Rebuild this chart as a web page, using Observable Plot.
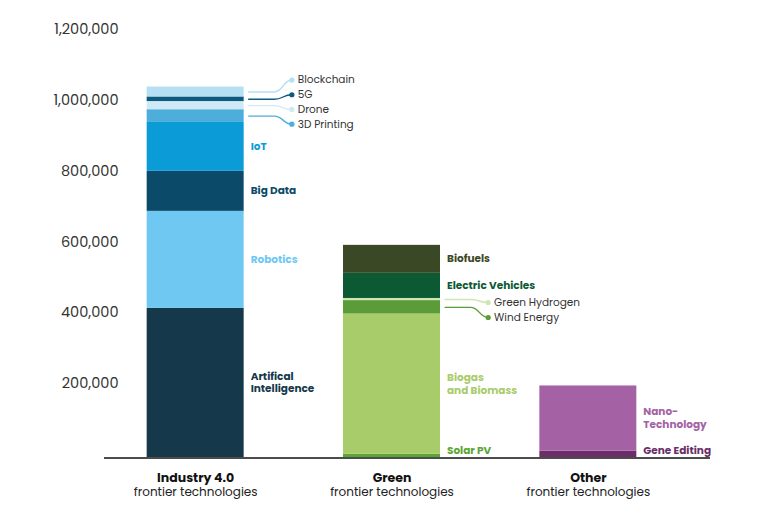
<!DOCTYPE html>
<html><head><meta charset="utf-8">
<script src="https://cdn.jsdelivr.net/npm/d3@7"></script>
<script src="https://cdn.jsdelivr.net/npm/@observablehq/plot@0.6"></script>
<style>
html,body{margin:0;padding:0;background:#fff;}
body{font-family:Poppins, Inter, "Noto Sans", sans-serif;}
</style></head><body><div id="chart"></div>
<script>
// ---- data ----
const groups = ["Industry 4.0", "Green", "Other"];
const groupSub = ["frontier technologies", "frontier technologies", "frontier technologies"];
const techs = ["Artifical Intelligence", "Robotics", "Big Data", "IoT", "3D Printing", "Drone", "5G", "Blockchain",
  "Solar PV", "Biogas and Biomass", "Wind Energy", "Green Hydrogen", "Electric Vehicles", "Biofuels",
  "Gene Editing", "Nano-Technology"];
const techLabels = ["Artifical\nIntelligence", "Robotics", "Big Data", "IoT", "3D Printing", "Drone", "5G", "Blockchain",
  "Solar PV", "Biogas\nand Biomass", "Wind Energy", "Green Hydrogen", "Electric Vehicles", "Biofuels",
  "Gene Editing", "Nano-\nTechnology"];
const techGroup = ["Industry 4.0", "Industry 4.0", "Industry 4.0", "Industry 4.0", "Industry 4.0", "Industry 4.0", "Industry 4.0", "Industry 4.0",
  "Green", "Green", "Green", "Green", "Green", "Green",
  "Other", "Other"];
const marketSize = [421000, 274000, 113000, 138000, 36000, 23000, 13000, 28000,
  9000, 396000, 38000, 6000, 71000, 79000,
  18000, 184000];
const yTicks = [200000, 400000, 600000, 800000, 1000000, 1200000];

// ---- styles (not data) ----
const colors = ["#15384b", "#6fc8f2", "#0b4a69", "#0b9bd7", "#4daedb", "#cfeaf6", "#0c5a80", "#b5dff2",
  "#5ba633", "#a9cc6b", "#5b9b38", "#cfe6b2", "#0c5a34", "#3b4826",
  "#6a2f68", "#a462a5"];
const leaderTechs = new Set(["Blockchain", "5G", "Drone", "3D Printing", "Green Hydrogen", "Wind Energy"]);
const leaderStartPx = {"Industry 4.0": -7, "Green": 4};
const leaderStepPx = {"Industry 4.0": 14.7, "Green": 15};
const FONT = "Poppins, Inter, 'Noto Sans', sans-serif";
const yDomain = [0, 1200000], yRange = [457, 32];
const yS = d3.scaleLinear(yDomain, yRange);
const HW = 0.247, X0 = 0.28, XB = 0.40, XD = 0.49, XT = 0.52;

// ---- build stacked rows ----
const rows = [];
const cum = {};
techs.forEach((t, i) => {
  const g = techGroup[i];
  const gi = groups.indexOf(g);
  const y1 = cum[g] || 0;
  const y2 = y1 + marketSize[i];
  cum[g] = y2;
  rows.push({tech: t, label: techLabels[i], group: g, gi, y1, y2, mid: (y1 + y2) / 2});
});

// leader labels: stacked downward from the topmost leader segment
const leaders = [];
groups.forEach(g => {
  const ls = rows.filter(r => r.group === g && leaderTechs.has(r.tech)).sort((a, b) => b.y2 - a.y2);
  if (!ls.length) return;
  const topPx = yS(ls[0].y2) + leaderStartPx[g];
  ls.forEach((r, k) => { r.ly = yS.invert(topPx + k * leaderStepPx[g]); leaders.push(r); });
});
const leaderPts = leaders.flatMap(r => [
  {tech: r.tech, x: r.gi + X0 - 0.01, y: r.mid},
  {tech: r.tech, x: r.gi + XB, y: r.mid},
  {tech: r.tech, x: r.gi + XD, y: r.ly}
]);
const minLabel = yS.invert(yRange[0] - 7);
const inline = rows.filter(r => !leaderTechs.has(r.tech)).map(r => ({...r, ty: Math.max(r.mid, minLabel)}));

const chart = Plot.plot({
  width: 768, height: 527,
  marginLeft: 104, marginRight: 58, marginTop: 20, marginBottom: 70,
  x: {domain: [-0.5, 2.5], range: [97, 686], axis: null},
  y: {domain: yDomain, range: yRange, axis: null},
  color: {domain: techs, range: colors},
  style: {fontFamily: FONT, background: "#fff", overflow: "visible"},
  marks: [
    Plot.axisY(yTicks, {tickSize: 0, tickFormat: d3.format(","), dx: 23, dy: -3, fontSize: 14.5, fill: "#333", label: null}),
    Plot.rect(rows, {x1: d => d.gi - HW, x2: d => d.gi + HW, y1: "y1", y2: "y2", fill: "tech"}),
    Plot.ruleY([0], {stroke: "#111", strokeWidth: 1.5, dy: 0.5}),
    Plot.line(leaderPts, {x: "x", y: "y", z: "tech", stroke: "tech", curve: "bump-x", strokeWidth: 1.4}),
    Plot.dot(leaders, {x: d => d.gi + XD, y: "ly", fill: "tech", r: 2.6}),
    Plot.text(leaders, {x: d => d.gi + XT, y: "ly", text: "label", textAnchor: "start", fill: "#333", fontSize: 10.5}),
    Plot.text(inline, {x: d => d.gi + X0, y: "ty", text: "label", textAnchor: "start", fill: "tech", fontWeight: 700, fontSize: 10.5, lineHeight: 1.2, dy: -1}),
    Plot.text(groups, {x: (d, i) => i, y: () => 0, dy: 20, text: d => d, fontWeight: 700, fontSize: 12.5, fill: "#111"}),
    Plot.text(groupSub, {x: (d, i) => i, y: () => 0, dy: 35, text: d => d, fontSize: 12, fill: "#222"})
  ]
});
document.getElementById("chart").appendChild(chart);
</script>
</body></html>
